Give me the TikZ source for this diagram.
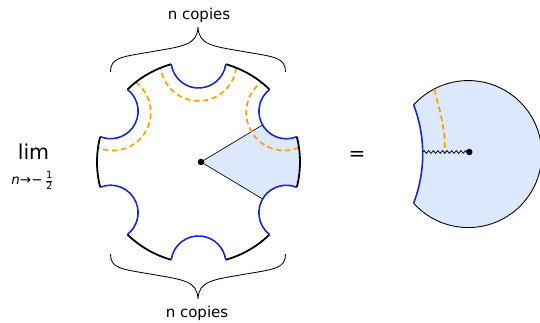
\documentclass[tikz,border=0pt]{standalone}
\usepackage{fontspec}
\setmainfont{DejaVu Sans}
\usetikzlibrary{decorations.pathmorphing}
\definecolor{notchblue}{RGB}{25,40,205}
\definecolor{dashorange}{RGB}{255,160,0}
\definecolor{wedgeblue}{RGB}{220,232,252}
\begin{document}
\begin{tikzpicture}[x=1pt,y=1pt,
  outerarc/.style={line width=1.8pt,black},
  notcharc/.style={line width=1.6pt,notchblue},
  geod/.style={line width=1.7pt,dashorange,dash pattern=on 5.5pt off 3.5pt},
  ray/.style={line width=0.65pt},
  bracepath/.style={line width=0.85pt},
  dotnode/.style={circle,fill=black,inner sep=0pt,minimum size=6.5pt},
  lbl/.style={inner sep=0pt,font=\fontsize{15}{18}\selectfont}]
\useasboundingbox (0,0) rectangle (540,323);

% ---------- left shape ----------
\begin{scope}[shift={(198.5,161)}]
  \coordinate (w1) at (30:74);
  \coordinate (w2) at (-30:74);
  \coordinate (dotpos) at (2.5,0);
  \fill[wedgeblue] (dotpos) -- (w1)
     arc[start angle=210,end angle=292.2,radius=27.5]
     arc[start angle=14.4,end angle=-14.4,radius=101.5]
     arc[start angle=67.8,end angle=150,radius=27.5] -- cycle;
  \draw[ray] (dotpos) -- (w1);
  \draw[ray] (dotpos) -- (w2);
  \foreach \t in {30,90,150}
    \draw[geod] ({\t-21.8}:101.5) arc[start angle={\t-97.2},end angle={\t-262.8},radius=38];
  \foreach \t in {30,90,...,330} {
    \draw[outerarc] ({\t+15.6}:101.5) arc[start angle={\t+15.6},end angle={\t+44.4},radius=101.5];
    \draw[notcharc] ({\t-15.6}:101.5) arc[start angle={\t-97.8},end angle={\t-262.2},radius=27.5];
  }
  \node[dotnode] (dotL) at (dotpos) {};
\end{scope}

% ---------- right shape ----------
\coordinate (C) at (468.3,169);
\coordinate (N) at (285,169);
\fill[wedgeblue] (N) ++(20.94:137.7) arc[start angle=20.94,end angle=-20.94,radius=137.7]
   arc[start angle=-138.03,end angle=138.03,radius=73.5] -- cycle;
\draw[line width=0.9pt] (N) ++(-20.94:137.7) arc[start angle=-138.03,end angle=138.03,radius=73.5];
\draw[notcharc] (N) ++(20.94:137.7) arc[start angle=20.94,end angle=-20.94,radius=137.7];
\coordinate (g1) at (434.3,233.7);
\coordinate (g2) at (445,171);
\draw[geod] (g1) to[out=-76,in=90] (g2);
\coordinate (wv) at (422.7,171);
\node[dotnode] (dotR) at (469.3,171) {};
\draw[decorate,decoration={snake,amplitude=1.4pt,segment length=4.6pt},line width=0.75pt] (wv) -- (dotR.center);

% ---------- braces ----------
\draw[bracepath] (110.5,251) .. controls (110.5,265) and (120,266) .. (150,271)
   .. controls (185,277) and (197,278) .. (198,296)
   .. controls (199,278) and (211,277) .. (246,271)
   .. controls (276,266) and (285.5,265) .. (285.5,251);
\begin{scope}[shift={(0,320)},yscale=-1]
\draw[bracepath] (110.5,251) .. controls (110.5,265) and (120,266) .. (150,271)
   .. controls (185,277) and (197,278) .. (198,296)
   .. controls (199,278) and (211,277) .. (246,271)
   .. controls (276,266) and (285.5,265) .. (285.5,251);
\end{scope}

% ---------- text ----------
\node[lbl,anchor=base] (topcopies) at (199,303.5) {n copies};
\node[lbl,anchor=base] (botcopies) at (197,5) {n copies};
\node[anchor=base,inner sep=0pt,font=\fontsize{20.5}{24}\selectfont] (lim) at (33.5,163.7) {lim};
\node[anchor=base,inner sep=0pt,font=\fontsize{13.5}{16}\selectfont] (sub) at (32.5,138.5)
   {\textit{n}→−\,$\frac{\mbox{\fontsize{10}{10}\selectfont 1}}{\mbox{\fontsize{10}{10}\selectfont 2}}$};
\node[anchor=base,inner sep=0pt,font=\fontsize{20}{24}\selectfont] (eq) at (357,162.5) {=};
\end{tikzpicture}
\end{document}
